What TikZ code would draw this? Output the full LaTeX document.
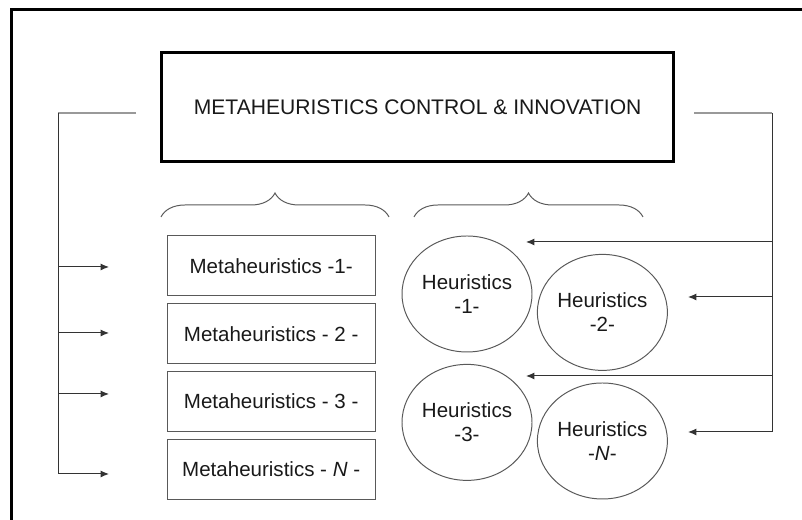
\documentclass[tikz,border=0pt]{standalone}
\usepackage{fontspec}
\setmainfont{Liberation Sans}
\usetikzlibrary{arrows.meta,positioning,shapes.geometric,decorations.pathreplacing}

\tikzset{
  metabox/.style={draw=black!65, line width=0.7pt, minimum width=5.19cm,
    minimum height=1.5cm, inner sep=0pt, text=black!90,
    font=\fontsize{14.6}{17}\selectfont},
  heurblob/.style={ellipse, draw=black!65, line width=0.7pt, minimum width=3.25cm,
    minimum height=2.9cm, inner sep=0pt, align=center, text=black!90,
    font=\fontsize{14.6}{17}\selectfont},
  feed/.style={draw=black!80, line width=0.7pt},
  feedarrow/.style={feed, -{Latex[length=6pt,width=5pt]}},
  stub/.style={draw=black!40, line width=1.1pt},
  groupbrace/.style={draw=black!65, line width=0.7pt, decorate,
    decoration={brace, amplitude=0.6cm}}
}

\begin{document}
\begin{tikzpicture}
\clip (0,0) rectangle (20.05,13);
% outer frame (runs off the page at right and bottom)
\draw[line width=2.4pt] (0.29,-1) rectangle (21,12.76);

\node[draw, line width=1.6pt, minimum width=12.8cm, minimum height=2.72cm,
  text=black!90, font=\fontsize{15}{18}\selectfont]
  (Control) at (10.44,10.325) {METAHEURISTICS CONTROL \& INNOVATION};

% metaheuristics column
\node[metabox] (Meta1) at (6.78,6.35) {Metaheuristics -1-};
\node[metabox, below=0.17cm of Meta1] (Meta2) {Metaheuristics - 2 -};
\node[metabox, below=0.17cm of Meta2] (Meta3) {Metaheuristics - 3 -};
\node[metabox, below=0.17cm of Meta3] (MetaN) {Metaheuristics - \textit{N} -};

% heuristics
\node[heurblob] (Heur1) at (11.675,5.65) {Heuristics\\-1-};
\node[heurblob] (Heur2) at (15.06,5.19) {Heuristics\\-2-};
\node[heurblob] (Heur3) at (11.675,2.44) {Heuristics\\-3-};
\node[heurblob] (HeurN) at (15.06,1.975) {Heuristics\\-\textit{N}-};

\draw[groupbrace] (4.025,7.575) -- (9.725,7.575);
\draw[groupbrace] (10.35,7.575) -- (16.075,7.575);

% left feed
\coordinate (LeftTop) at (1.45,10.175);
\draw[stub] (3.4,10.175) -- (LeftTop);
\foreach \y [count=\i] in {6.325,4.675,3.15,1.15}
  \coordinate (lin\i) at (2.725,\y);
\draw[feed] (LeftTop) -- (LeftTop |- lin4);
\foreach \i in {1,...,4}
  \draw[feedarrow] (LeftTop |- lin\i) -- (lin\i);

% right feed
\coordinate (RightTop) at (19.3,10.175);
\draw[stub] (17.35,10.175) -- (RightTop);
\coordinate (rin1) at (13.15,6.95);
\coordinate (rin2) at (17.2,5.575);
\coordinate (rin3) at (13.15,3.6);
\coordinate (rin4) at (17.2,2.2);
\draw[feed] (RightTop) -- (RightTop |- rin4);
\foreach \i in {1,...,4}
  \draw[feedarrow] (RightTop |- rin\i) -- (rin\i);
\end{tikzpicture}
\end{document}
